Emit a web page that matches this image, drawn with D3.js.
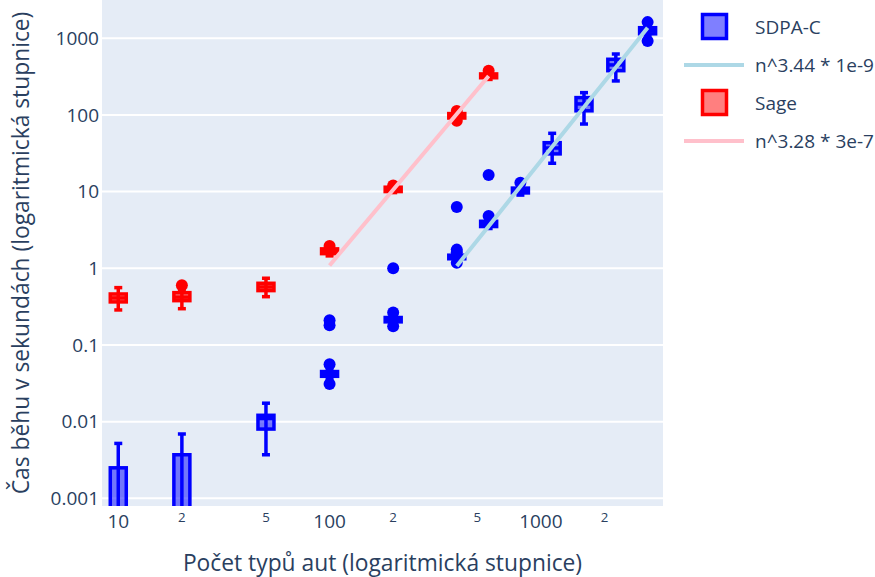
<!DOCTYPE html>
<html>
<head>
<meta charset="utf-8">
<script src="https://cdn.jsdelivr.net/npm/d3@7"></script>
<style>
  html, body { margin: 0; padding: 0; background: #fff; }
  svg { display: block; font-family: "Open Sans", verdana, arial, sans-serif; }
</style>
</head>
<body>
<svg id="chart" width="875" height="577"></svg>
<script>
// Problem sizes (number of car types) at which runs were timed
const sizes = [10, 20, 50, 100, 200, 400, 566, 800, 1131, 1600, 2263, 3200];

// SDPA-C run times in seconds: box statistics per size
const sdpaLower  = [0.0002, 0.0002, 0.0037, 0.036, 0.19, 1.30, 3.3, 9.0, 23.4, 76, 277, 1100];
const sdpaQ1     = [0.0004, 0.0004, 0.0080, 0.039, 0.20, 1.33, 3.5, 9.6, 31.0, 113, 377, 1140];
const sdpaMedian = [0.0006, 0.0007, 0.0110, 0.042, 0.215, 1.40, 3.8, 10.4, 37.0, 139, 448, 1250];
const sdpaQ3     = [0.0025, 0.0037, 0.0121, 0.045, 0.228, 1.48, 4.1, 11.1, 43.4, 168, 531, 1370];
const sdpaUpper  = [0.0052, 0.0069, 0.0174, 0.048, 0.24, 1.55, 4.3, 11.8, 57.5, 195, 622, 1400];
const sdpaOutliers = [[], [], [], [0.056, 0.031, 0.18, 0.21], [0.265, 0.175, 1.0],
                      [1.75, 1.62, 1.18, 6.3], [4.8, 16.5], [13.0], [], [], [], [1620, 920]];

// Sage run times in seconds (measured up to 566 types)
const sageSizes   = [10, 20, 50, 100, 200, 400, 566];
const sageLower   = [0.286, 0.297, 0.426, 1.45, 9.7, 87, 290];
const sageQ1      = [0.364, 0.378, 0.511, 1.55, 10.0, 91, 305];
const sageMedian  = [0.41, 0.42, 0.57, 1.68, 10.7, 97, 322];
const sageQ3      = [0.462, 0.481, 0.637, 1.79, 11.4, 104, 342];
const sageUpper   = [0.559, 0.52, 0.741, 1.85, 11.7, 108, 355];
const sageOutliers = [[], [0.6], [], [1.95], [12.0], [112, 84], [375]];

// Power-law fits t = c * n^k
const sdpaFitExp = 3.44, sdpaFitCoef = 1.2e-9, sdpaFitRange = [400, 3200];
const sageFitExp = 3.28, sageFitCoef = 3e-7,   sageFitRange = [100, 566];

// Axis ticks
const yTicks = [0.001, 0.01, 0.1, 1, 10, 100, 1000];
const yTickLabels = ["0.001", "0.01", "0.1", "1", "10", "100", "1000"];
const xMajorTicks = [10, 100, 1000];
const xMajorLabels = ["10", "100", "1000"];
const xMinorTicks = [20, 50, 200, 500, 2000];
const xMinorLabels = ["2", "5", "2", "5", "2"];

const textColor = "#2a3f5f";
const plot = { left: 102, right: 663, top: 0, bottom: 506 };

const svg = d3.select("#chart");
const x = d3.scaleLog().domain([Math.pow(10, 0.923), Math.pow(10, 3.578)]).range([plot.left, plot.right]);
const y = d3.scaleLog().domain([Math.pow(10, -3.1), Math.pow(10, 3.498)]).range([plot.bottom, plot.top]);

svg.append("defs").append("clipPath").attr("id", "plotClip")
  .append("rect").attr("x", plot.left).attr("y", plot.top)
  .attr("width", plot.right - plot.left).attr("height", plot.bottom - plot.top);

// Background
svg.append("rect").attr("x", plot.left).attr("y", plot.top)
  .attr("width", plot.right - plot.left).attr("height", plot.bottom - plot.top)
  .attr("fill", "#e5ecf6");

// Horizontal grid
svg.append("g").selectAll("line").data(yTicks).join("line")
  .attr("x1", plot.left).attr("x2", plot.right)
  .attr("y1", d => y(d)).attr("y2", d => y(d))
  .attr("stroke", "#fff").attr("stroke-width", 2);

// Y tick labels
svg.append("g").selectAll("text").data(yTicks).join("text")
  .attr("x", 99).attr("y", d => y(d) + 6.8)
  .attr("text-anchor", "end").attr("font-size", 19).attr("fill", textColor)
  .text((d, i) => yTickLabels[i]);

// X tick labels (major decades and minor 2/5 marks)
svg.append("g").selectAll("text").data(xMajorTicks).join("text")
  .attr("x", d => x(d)).attr("y", 528)
  .attr("text-anchor", "middle").attr("font-size", 19).attr("fill", textColor)
  .text((d, i) => xMajorLabels[i]);
svg.append("g").selectAll("text").data(xMinorTicks).join("text")
  .attr("x", d => x(d)).attr("y", 522)
  .attr("text-anchor", "middle").attr("font-size", 13.3).attr("fill", textColor)
  .text((d, i) => xMinorLabels[i]);

// Axis titles
svg.append("text").attr("x", (plot.left + plot.right) / 2).attr("y", 571)
  .attr("text-anchor", "middle").attr("font-size", 22.8).attr("fill", textColor)
  .text("Počet typů aut (logaritmická stupnice)");
svg.append("text").attr("transform", `translate(29,${(plot.top + plot.bottom) / 2}) rotate(-90)`)
  .attr("text-anchor", "middle").attr("font-size", 22.8).attr("fill", textColor)
  .text("Čas běhu v sekundách (logaritmická stupnice)");

const layer = svg.append("g").attr("clip-path", "url(#plotClip)");
const halfBox = 8, halfCap = 4, strokeW = 3.5;

function drawBoxes(ns, lo, q1, med, q3, hi, outs, color, fill) {
  const g = layer.append("g");
  const rows = ns.map((n, i) => ({ n, lo: lo[i], q1: q1[i], med: med[i], q3: q3[i], hi: hi[i], outs: outs[i] }));
  const b = g.selectAll("g").data(rows).join("g");
  // whisker stems
  b.append("line").attr("x1", d => x(d.n)).attr("x2", d => x(d.n))
    .attr("y1", d => y(d.hi)).attr("y2", d => y(d.lo))
    .attr("stroke", color).attr("stroke-width", strokeW);
  // whisker caps
  ["lo", "hi"].forEach(k => {
    b.append("line").attr("x1", d => x(d.n) - halfCap).attr("x2", d => x(d.n) + halfCap)
      .attr("y1", d => y(d[k])).attr("y2", d => y(d[k]))
      .attr("stroke", color).attr("stroke-width", strokeW);
  });
  // box body
  b.append("rect").attr("x", d => x(d.n) - halfBox).attr("width", halfBox * 2)
    .attr("y", d => y(d.q3)).attr("height", d => y(d.q1) - y(d.q3))
    .attr("fill", fill).attr("stroke", color).attr("stroke-width", strokeW);
  // median
  b.append("line").attr("x1", d => x(d.n) - halfBox).attr("x2", d => x(d.n) + halfBox)
    .attr("y1", d => y(d.med)).attr("y2", d => y(d.med))
    .attr("stroke", color).attr("stroke-width", strokeW);
  // outlying runs
  b.selectAll("circle").data(d => d.outs.map(v => ({ n: d.n, v }))).join("circle")
    .attr("cx", d => x(d.n)).attr("cy", d => y(d.v)).attr("r", 6).attr("fill", color);
}

function drawFit(ns, range, k, c, color) {
  const pts = ns.filter(n => n >= range[0] && n <= range[1]);
  const line = d3.line().x(n => x(n)).y(n => y(c * Math.pow(n, k)));
  layer.append("path").datum(pts).attr("d", line)
    .attr("fill", "none").attr("stroke", color).attr("stroke-width", 4);
}

drawBoxes(sizes, sdpaLower, sdpaQ1, sdpaMedian, sdpaQ3, sdpaUpper, sdpaOutliers, "#0000ff", "rgba(0,0,255,0.5)");
drawFit(sizes, sdpaFitRange, sdpaFitExp, sdpaFitCoef, "lightblue");
drawBoxes(sageSizes, sageLower, sageQ1, sageMedian, sageQ3, sageUpper, sageOutliers, "#ff0000", "rgba(255,0,0,0.5)");
drawFit(sageSizes, sageFitRange, sageFitExp, sageFitCoef, "pink");

// Legend
const fmtCoef = d3.format(".0e");
const legendItems = [
  { type: "box", color: "#0000ff", fill: "rgba(0,0,255,0.5)", label: "SDPA-C" },
  { type: "line", color: "lightblue", label: `n^${sdpaFitExp} * ${fmtCoef(sdpaFitCoef)}` },
  { type: "box", color: "#ff0000", fill: "rgba(255,0,0,0.5)", label: "Sage" },
  { type: "line", color: "pink", label: `n^${sageFitExp} * ${fmtCoef(sageFitCoef)}` }
];
const legend = svg.append("g");
legendItems.forEach((it, i) => {
  const cy = 27 + i * 38;
  if (it.type === "box") {
    legend.append("rect").attr("x", 702.5).attr("y", cy - 12.5).attr("width", 24).attr("height", 24)
      .attr("fill", it.fill).attr("stroke", it.color).attr("stroke-width", strokeW);
  } else {
    legend.append("line").attr("x1", 684).attr("x2", 744).attr("y1", cy).attr("y2", cy)
      .attr("stroke", it.color).attr("stroke-width", 4);
  }
  legend.append("text").attr("x", 755).attr("y", cy + 6.8)
    .attr("font-size", 19).attr("fill", textColor).text(it.label);
});
</script>
</body>
</html>
